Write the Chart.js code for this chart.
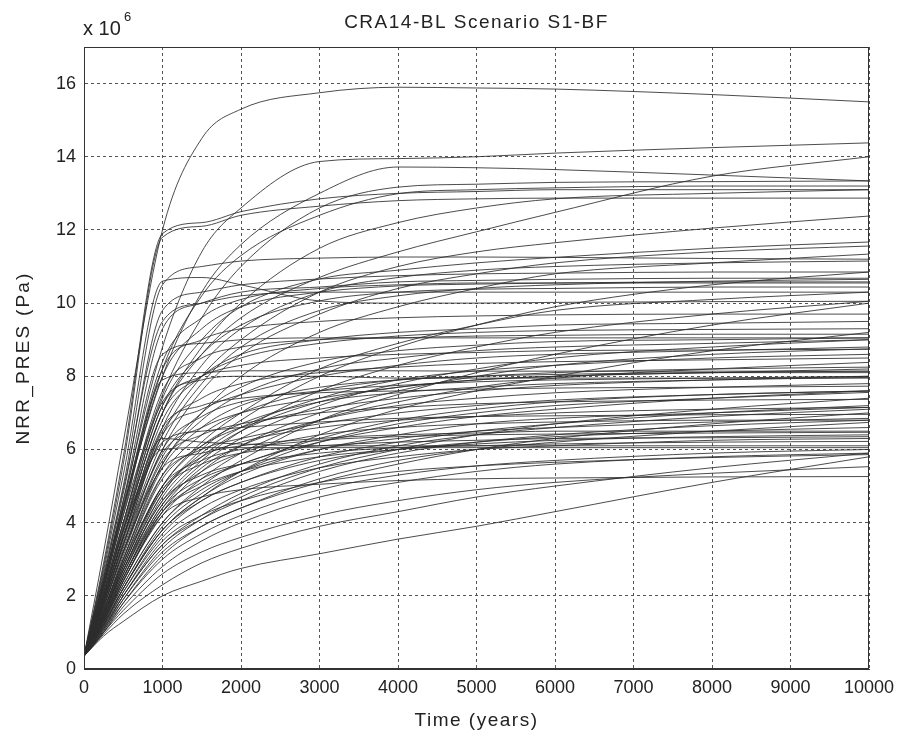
<!DOCTYPE html>
<html>
<head>
<meta charset="utf-8">
<script src="https://cdn.jsdelivr.net/npm/chart.js@4.4.1/dist/chart.umd.min.js"></script>
<style>
html, body { margin: 0; padding: 0; background: #fff; }
</style>
</head>
<body>
<canvas id="pressureChart" width="905" height="739"></canvas>
<script>
const chartTitle = "CRA14-BL Scenario S1-BF";
const xTitle = "Time (years)";
const yTitle = "NRR_PRES (Pa)";
const years = [0, 250, 500, 1000, 1500, 2000, 3000, 4000, 5000, 6000, 8000, 10000];
const yTicks = [0, 2, 4, 6, 8, 10, 12, 14, 16];

// NRR_PRES in units of 1e6 Pa, one row per realization
const runsHigh = [
    [0.35, 3.2, 6.2, 12.0, 14.5, 15.3, 15.75, 15.9, 15.88, 15.85, 15.7, 15.5],
    [0.35, 2.9, 5.8, 11.9, 12.2, 12.5, 12.85, 13.0, 13.05, 13.1, 13.1, 13.1],
    [0.35, 2.8, 5.6, 11.8, 12.1, 12.4, 12.65, 12.8, 12.85, 12.87, 12.87, 12.87],
    [0.35, 2.4, 4.6, 8.8, 11.4, 12.6, 13.87, 13.95, 14.0, 14.1, 14.25, 14.38],
    [0.35, 2.3, 4.4, 8.0, 10.3, 11.6, 13.0, 13.72, 13.7, 13.65, 13.5, 13.34],
    [0.35, 2.2, 4.2, 7.5, 9.6, 11.0, 12.6, 13.17, 13.25, 13.3, 13.32, 13.34],
    [0.35, 2.3, 4.4, 8.2, 10.2, 11.3, 12.4, 12.99, 13.1, 13.15, 13.2, 13.2],
    [0.35, 2.0, 3.8, 7.0, 8.6, 9.6, 10.7, 11.4, 11.95, 12.48, 13.47, 14.0],
    [0.35, 2.6, 5.0, 10.5, 11.0, 11.15, 11.23, 11.26, 11.26, 11.25, 11.22, 11.2],
    [0.35, 1.9, 3.6, 6.4, 8.0, 9.0, 10.3, 11.0, 11.4, 11.65, 12.05, 12.38],
    [0.35, 2.1, 4.0, 7.4, 9.0, 9.9, 10.66, 10.9, 11.1, 11.25, 11.5, 11.67],
    [0.35, 1.8, 3.4, 6.0, 7.6, 8.6, 9.7, 10.4, 10.8, 11.1, 11.4, 11.56],
    [0.35, 1.7, 3.2, 5.6, 7.0, 8.0, 9.2, 9.9, 10.4, 10.8, 11.1, 11.34],
    [0.35, 2.7, 5.3, 10.6, 10.7, 10.5, 10.06, 10.0, 10.0, 10.02, 10.04, 10.05],
    [0.35, 2.5, 4.8, 9.8, 10.3, 10.5, 10.66, 10.75, 10.8, 10.82, 10.85, 10.85],
    [0.35, 2.4, 4.6, 9.3, 10.0, 10.3, 10.44, 10.58, 10.62, 10.65, 10.68, 10.68],
    [0.35, 2.2, 4.3, 8.0, 9.3, 9.9, 10.3, 10.47, 10.52, 10.55, 10.58, 10.58],
    [0.35, 2.0, 3.9, 7.2, 8.6, 9.4, 10.06, 10.3, 10.38, 10.4, 10.44, 10.44],
    [0.35, 1.6, 2.9, 5.0, 6.2, 7.0, 8.2, 8.9, 9.4, 9.8, 10.1, 10.3],
    [0.35, 1.5, 2.7, 4.6, 5.7, 6.5, 7.6, 8.3, 8.8, 9.2, 9.7, 10.05],
    [0.35, 2.0, 3.8, 7.0, 8.8, 10.0, 11.5, 12.2, 12.6, 12.85, 13.0, 13.1],
    [0.35, 2.3, 4.4, 8.4, 9.6, 10.1, 10.4, 10.5, 10.55, 10.55, 10.55, 10.55],
    [0.35, 1.8, 3.4, 6.2, 7.8, 8.8, 9.8, 10.2, 10.4, 10.5, 10.6, 10.65],
    [0.35, 1.9, 3.6, 6.6, 8.3, 9.3, 10.3, 10.7, 10.9, 11.0, 11.1, 11.15],
    [0.35, 2.5, 4.9, 9.5, 10.0, 10.2, 10.3, 10.3, 10.3, 10.3, 10.3, 10.3]
];

const runsMid = [
    [0.35, 2.3, 4.4, 8.2, 9.0, 9.3, 9.5, 9.6, 9.65, 9.68, 9.7, 9.7],
    [0.35, 1.9, 3.6, 6.8, 8.0, 8.6, 9.0, 9.2, 9.3, 9.4, 9.45, 9.5],
    [0.35, 2.1, 4.0, 7.6, 8.5, 8.8, 9.0, 9.05, 9.1, 9.12, 9.15, 9.15],
    [0.35, 1.7, 3.2, 5.8, 7.0, 7.7, 8.4, 8.7, 8.85, 8.95, 9.0, 9.05],
    [0.35, 1.4, 2.6, 4.5, 5.6, 6.3, 7.2, 7.8, 8.2, 8.5, 8.8, 9.0],
    [0.35, 2.0, 3.8, 7.2, 8.0, 8.3, 8.5, 8.6, 8.65, 8.7, 8.72, 8.74],
    [0.35, 1.8, 3.5, 6.5, 7.4, 7.8, 8.1, 8.25, 8.35, 8.4, 8.45, 8.5],
    [0.35, 1.3, 2.4, 4.2, 5.2, 5.9, 6.8, 7.3, 7.7, 7.95, 8.2, 8.38],
    [0.35, 1.6, 3.0, 5.5, 6.6, 7.2, 7.7, 7.9, 8.0, 8.1, 8.2, 8.25],
    [0.35, 2.2, 4.2, 7.9, 8.1, 8.15, 8.15, 8.15, 8.14, 8.14, 8.14, 8.14],
    [0.35, 1.5, 2.8, 5.0, 6.1, 6.7, 7.3, 7.55, 7.7, 7.8, 7.9, 7.97],
    [0.35, 1.9, 3.6, 6.6, 7.2, 7.4, 7.55, 7.6, 7.65, 7.68, 7.7, 7.73],
    [0.35, 1.2, 2.2, 3.9, 4.8, 5.4, 6.2, 6.7, 7.0, 7.2, 7.4, 7.56],
    [0.35, 1.3, 2.3, 4.0, 5.0, 5.7, 6.8, 7.5, 8.1, 8.6, 9.4, 10.0],
    [0.35, 1.25, 2.2, 3.8, 4.7, 5.4, 6.4, 7.1, 7.6, 8.0, 8.7, 9.2],
    [0.35, 2.4, 4.5, 8.6, 8.9, 9.0, 9.05, 9.05, 9.05, 9.05, 9.05, 9.05],
    [0.35, 1.7, 3.2, 6.0, 6.9, 7.3, 7.6, 7.75, 7.85, 7.9, 7.95, 8.0],
    [0.35, 1.35, 2.5, 4.4, 5.5, 6.1, 6.8, 7.2, 7.4, 7.55, 7.7, 7.8],
    [0.35, 1.9, 3.7, 7.0, 8.0, 8.5, 8.9, 9.1, 9.2, 9.25, 9.28, 9.3],
    [0.35, 1.45, 2.7, 4.8, 5.9, 6.6, 7.4, 7.9, 8.15, 8.3, 8.5, 8.6],
    [0.35, 1.6, 3.0, 5.6, 6.8, 7.5, 8.2, 8.5, 8.7, 8.8, 8.9, 9.0],
    [0.35, 1.5, 2.9, 5.3, 6.4, 7.0, 7.6, 7.9, 8.0, 8.05, 8.1, 8.1],
    [0.35, 2.1, 4.0, 7.3, 7.9, 8.0, 8.0, 7.95, 7.95, 7.95, 7.95, 7.95],
    [0.35, 1.3, 2.4, 4.3, 5.4, 6.1, 7.0, 7.6, 8.0, 8.3, 8.6, 8.75],
    [0.35, 1.4, 2.6, 4.7, 5.8, 6.5, 7.3, 7.7, 7.9, 8.0, 8.1, 8.14],
    [0.35, 1.5, 2.7, 4.8, 6.0, 6.8, 8.0, 8.8, 9.4, 9.9, 10.5, 10.85],
    [0.35, 1.7, 3.3, 5.9, 6.6, 7.0, 7.4, 7.7, 7.9, 8.0, 8.1, 8.2],
    [0.35, 1.55, 2.9, 5.2, 6.1, 6.6, 7.1, 7.4, 7.6, 7.75, 7.9, 8.0],
    [0.35, 1.8, 3.4, 6.4, 7.1, 7.5, 8.0, 8.3, 8.5, 8.6, 8.7, 8.8]
];

const runsLow = [
    [0.35, 1.6, 3.1, 5.7, 6.4, 6.7, 7.0, 7.15, 7.25, 7.3, 7.35, 7.37],
    [0.35, 1.2, 2.2, 3.8, 4.7, 5.3, 6.0, 6.4, 6.7, 6.85, 7.0, 7.15],
    [0.35, 1.8, 3.4, 6.2, 6.5, 6.6, 6.75, 6.85, 6.9, 6.92, 6.95, 6.96],
    [0.35, 1.0, 1.8, 3.1, 3.9, 4.4, 5.2, 5.7, 6.0, 6.2, 6.5, 6.74],
    [0.35, 1.5, 2.8, 5.0, 5.7, 6.0, 6.25, 6.35, 6.4, 6.42, 6.45, 6.47],
    [0.35, 1.4, 2.6, 4.6, 5.3, 5.6, 5.9, 6.05, 6.1, 6.15, 6.2, 6.22],
    [0.35, 2.0, 3.8, 6.0, 6.05, 6.05, 6.05, 6.05, 6.05, 6.05, 6.05, 6.05],
    [0.35, 1.1, 2.0, 3.5, 4.2, 4.6, 5.1, 5.4, 5.55, 5.65, 5.78, 5.86],
    [0.35, 0.9, 1.3, 2.0, 2.4, 2.75, 3.15, 3.55, 3.9, 4.3, 5.1, 5.8],
    [0.35, 1.0, 1.6, 2.6, 3.2, 3.6, 4.2, 4.6, 4.9, 5.1, 5.35, 5.53],
    [0.35, 1.3, 2.4, 4.2, 4.7, 4.9, 5.05, 5.15, 5.2, 5.22, 5.25, 5.26],
    [0.35, 0.95, 1.5, 2.3, 2.9, 3.3, 3.9, 4.3, 4.7, 5.0, 5.5, 5.9],
    [0.35, 1.05, 1.8, 3.0, 3.7, 4.2, 4.9, 5.3, 5.55, 5.7, 5.9, 6.0],
    [0.35, 1.15, 2.0, 3.4, 4.1, 4.6, 5.4, 5.9, 6.2, 6.4, 6.65, 6.8],
    [0.35, 1.25, 2.3, 4.0, 4.9, 5.4, 6.0, 6.3, 6.5, 6.6, 6.75, 6.85],
    [0.35, 1.7, 3.2, 5.5, 5.9, 6.1, 6.3, 6.4, 6.45, 6.5, 6.5, 6.5],
    [0.35, 1.9, 3.6, 6.3, 6.2, 6.15, 6.1, 6.1, 6.1, 6.1, 6.1, 6.1],
    [0.35, 1.1, 1.9, 3.2, 3.9, 4.4, 5.1, 5.6, 6.0, 6.3, 6.7, 7.0],
    [0.35, 1.4, 2.5, 4.3, 5.0, 5.4, 5.8, 6.0, 6.15, 6.25, 6.35, 6.4],
    [0.35, 1.5, 2.8, 4.9, 5.6, 5.9, 6.1, 6.2, 6.25, 6.3, 6.32, 6.35],
    [0.35, 1.2, 2.1, 3.6, 4.4, 4.9, 5.5, 5.8, 6.0, 6.1, 6.25, 6.3],
    [0.35, 1.35, 2.5, 4.4, 5.2, 5.6, 6.3, 6.8, 7.1, 7.3, 7.5, 7.6],
    [0.35, 1.6, 3.0, 5.3, 6.0, 6.3, 6.7, 7.0, 7.2, 7.35, 7.5, 7.6],
    [0.35, 1.0, 1.7, 2.8, 3.5, 4.0, 4.7, 5.1, 5.4, 5.6, 5.8, 5.9],
    [0.35, 1.45, 2.7, 4.9, 5.8, 6.2, 6.6, 6.8, 6.9, 7.0, 7.1, 7.15],
    [0.35, 1.3, 2.4, 4.3, 5.1, 5.6, 6.2, 6.6, 6.9, 7.1, 7.4, 7.6],
    [0.35, 1.15, 2.1, 3.7, 4.6, 5.1, 5.8, 6.2, 6.5, 6.7, 7.0, 7.2],
    [0.35, 1.2, 2.2, 3.8, 4.6, 5.1, 5.7, 6.0, 6.2, 6.35, 6.5, 6.6],
    [0.35, 1.05, 1.9, 3.3, 4.1, 4.7, 5.5, 6.0, 6.4, 6.7, 7.1, 7.4],
    [0.35, 1.35, 2.5, 4.5, 5.4, 5.9, 6.4, 6.6, 6.7, 6.75, 6.8, 6.8],
    [0.35, 1.1, 2.0, 3.4, 4.2, 4.8, 5.6, 6.1, 6.4, 6.6, 6.9, 7.1]
];

const fontFamily = '"Liberation Sans", Arial, sans-serif';

// build one dataset per realization
const allRuns = runsHigh.concat(runsMid, runsLow);
const datasets = allRuns.map(function (run) {
    return {
        data: years.map(function (t, i) { return { x: t, y: run[i] }; }),
        borderColor: "rgba(45,45,45,0.85)",
        borderWidth: 1,
        pointRadius: 0,
        fill: false,
        cubicInterpolationMode: "monotone"
    };
});

// frame, titles and the "x 10^6" multiplier
const frameAndTitle = {
    id: "frameAndTitle",
    afterDraw(chart) {
        const ctx = chart.ctx;
        const a = chart.chartArea;
        ctx.save();
        ctx.strokeStyle = "#333";
        ctx.lineWidth = 1;
        ctx.strokeRect(a.left + 0.5, a.top + 0.5, a.right - a.left - 1, a.bottom - a.top - 1);
        ctx.fillStyle = "#222";
        ctx.font = "19px " + fontFamily;
        ctx.textAlign = "center";
        ctx.letterSpacing = "1.5px";
        ctx.fillText(chartTitle, (a.left + a.right) / 2, 28);
        ctx.fillText(xTitle, (a.left + a.right) / 2, 726);
        ctx.save();
        ctx.translate(29, (a.top + a.bottom) / 2);
        ctx.rotate(-Math.PI / 2);
        ctx.letterSpacing = "2.2px";
        ctx.fillText(yTitle, 0, 0);
        ctx.restore();
        ctx.letterSpacing = "0px";
        ctx.textAlign = "left";
        ctx.font = "20px " + fontFamily;
        ctx.fillText("x 10", 83, 35);
        ctx.font = "13px " + fontFamily;
        ctx.fillText("6", 124, 21);
        ctx.restore();
    }
};

new Chart("pressureChart", {
    type: "line",
    data: { datasets: datasets },
    plugins: [frameAndTitle],
    options: {
        responsive: false,
        animation: false,
        layout: { padding: { top: 47, right: 36, left: 0, bottom: 0 } },
        plugins: {
            legend: { display: false },
            tooltip: { enabled: false }
        },
        scales: {
            x: {
                type: "linear",
                min: 0,
                max: 10000,
                afterFit(scale) { scale.height = 70; },
                ticks: {
                    stepSize: 1000,
                    padding: 8,
                    color: "#222",
                    maxRotation: 0,
                    font: { family: fontFamily, size: 18 },
                    callback: function (value) { return String(value); }
                },
                grid: {
                    color: "#555",
                    lineWidth: 1,
                    drawTicks: false
                },
                border: { display: true, color: "#333", dash: [3, 3] }
            },
            y: {
                min: 0,
                max: 17,
                afterFit(scale) { scale.width = 84; },
                afterBuildTicks(scale) {
                    scale.ticks = yTicks.map(function (v) { return { value: v }; });
                },
                ticks: {
                    padding: 8,
                    color: "#222",
                    font: { family: fontFamily, size: 18 }
                },
                grid: {
                    color: "#555",
                    lineWidth: 1,
                    drawTicks: false
                },
                border: { display: true, color: "#333", dash: [3, 3] }
            }
        }
    }
});
</script>
</body>
</html>
